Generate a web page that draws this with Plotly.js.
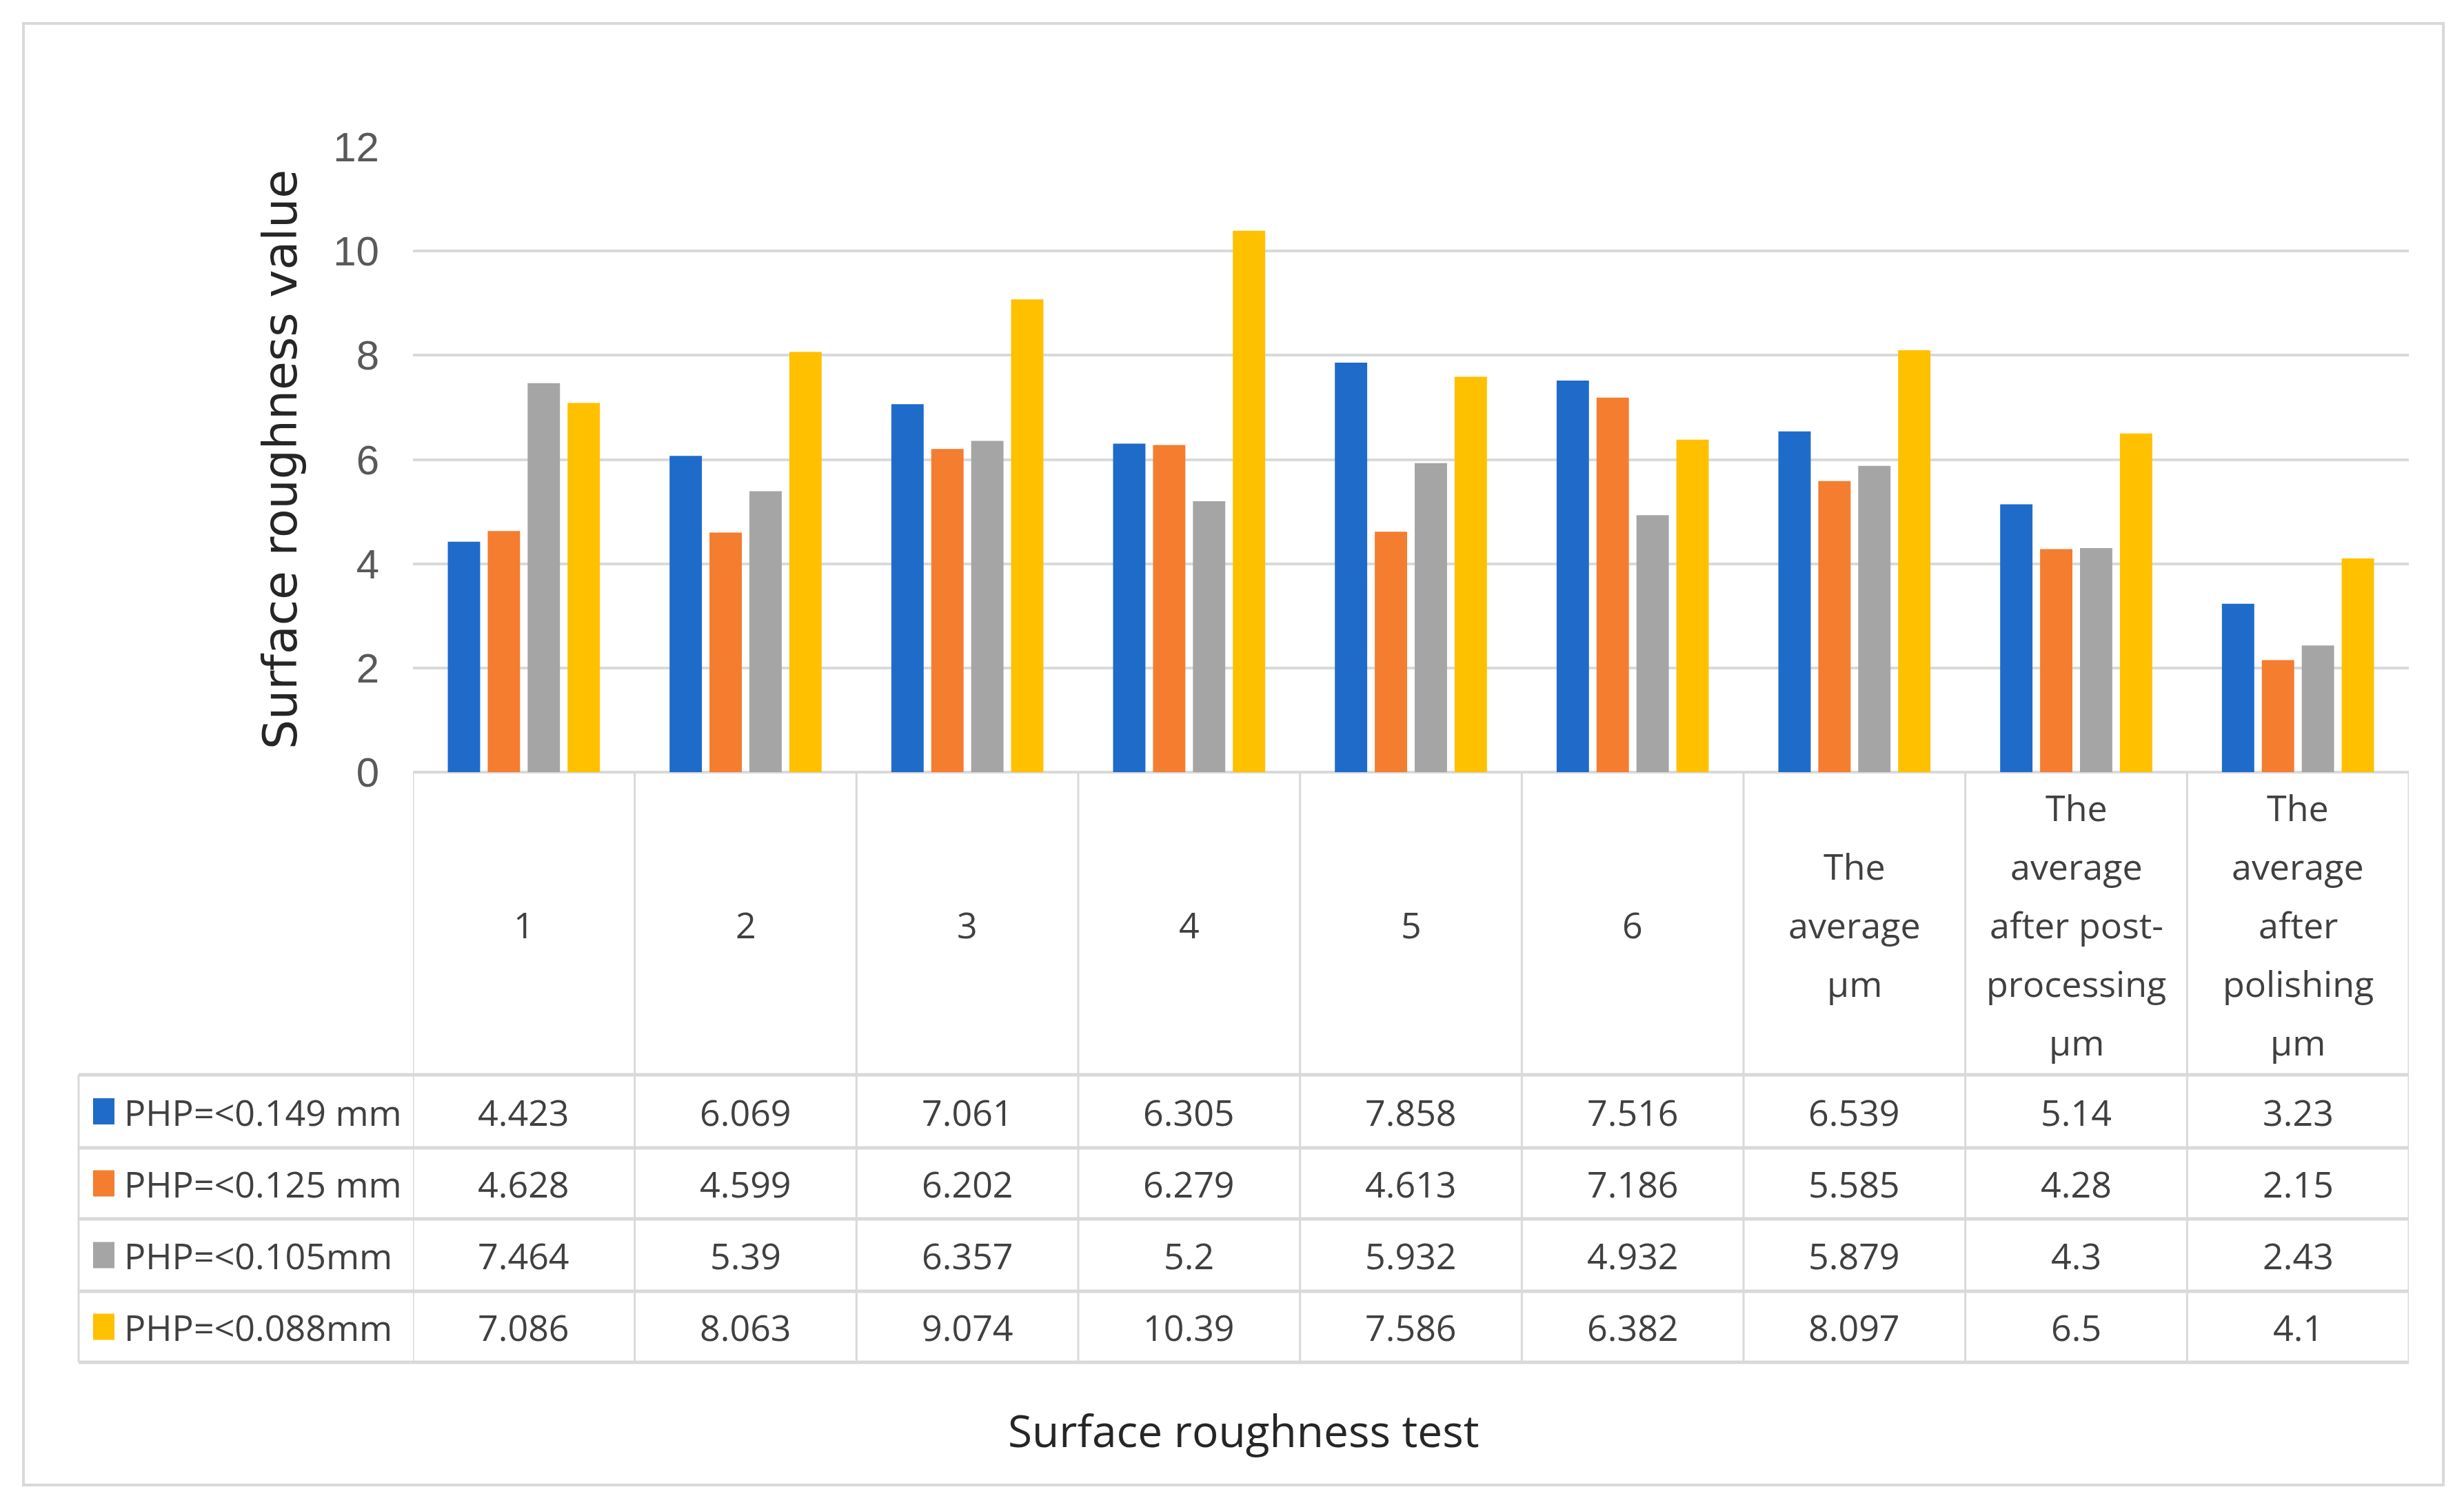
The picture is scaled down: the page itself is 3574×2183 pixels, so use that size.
<!DOCTYPE html>
<html>
<head>
<meta charset="utf-8">
<script src="https://cdn.plot.ly/plotly-3.0.1.min.js"></script>
<style>html,body{margin:0;padding:0;background:#fff;}#chart{width:3574px;height:2183px;}</style>
</head>
<body>
<div id="chart"></div>
<script>
// ---- data ----
const categories = ["1", "2", "3", "4", "5", "6",
  "The<br>average<br>µm",
  "The<br>average<br>after post-<br>processing<br>µm",
  "The<br>average<br>after<br>polishing<br>µm"];
const seriesNames = ["PHP=<0.149 mm", "PHP=<0.125 mm", "PHP=<0.105mm", "PHP=<0.088mm"];
const php0149 = [4.423, 6.069, 7.061, 6.305, 7.858, 7.516, 6.539, 5.14, 3.23];
const php0125 = [4.628, 4.599, 6.202, 6.279, 4.613, 7.186, 5.585, 4.28, 2.15];
const php0105 = [7.464, 5.39, 6.357, 5.2, 5.932, 4.932, 5.879, 4.3, 2.43];
const php0088 = [7.086, 8.063, 9.074, 10.39, 7.586, 6.382, 8.097, 6.5, 4.1];
const seriesValues = [php0149, php0125, php0105, php0088];
const seriesLabels = [
  ["4.423","6.069","7.061","6.305","7.858","7.516","6.539","5.14","3.23"],
  ["4.628","4.599","6.202","6.279","4.613","7.186","5.585","4.28","2.15"],
  ["7.464","5.39","6.357","5.2","5.932","4.932","5.879","4.3","2.43"],
  ["7.086","8.063","9.074","10.39","7.586","6.382","8.097","6.5","4.1"]];
const colors = ["#1F6BC9", "#F47D30", "#A5A5A5", "#FFC000"];
const yTitle = "Surface roughness value";
const xTitle = "Surface roughness test";

// ---- layout geometry (pixels) ----
const W = 3574, H = 2183;
const PL = 599, PR = 3494, PT = 213, PB = 1120;
const xp = px => (px - PL) / (PR - PL);
const yp = py => (PB - py) / (PB - PT);
const rowEdges = [1559, 1665, 1768, 1873, 1976];
const tableLeft = 114;
const headerLineGap = 85;
const headerCenter = 1340;
const gridCol = "#D9D9D9";
const textCol = "#404040";
const tableFont = {family: "Open Sans, sans-serif", size: 52, color: textCol};

const traces = seriesNames.map((name, s) => ({
  type: "bar", name: name, x: categories, y: seriesValues[s],
  marker: {color: colors[s]}, hoverinfo: "x+y"
}));

const shapes = [];
const annotations = [];
// outer frame
shapes.push({type: "rect", xref: "paper", yref: "paper", x0: xp(34), x1: xp(3544), y0: yp(34), y1: yp(2154),
  line: {color: gridCol, width: 4}, fillcolor: "rgba(0,0,0,0)", layer: "below"});
// vertical table lines at category boundaries
for (let i = 0; i <= categories.length; i++) {
  shapes.push({type: "line", xref: "x", yref: "paper", x0: i - 0.5, x1: i - 0.5, y0: 0, y1: yp(rowEdges[rowEdges.length - 1]),
    line: {color: gridCol, width: 3}});
}
// left label column border
shapes.push({type: "line", xref: "paper", yref: "paper", x0: xp(tableLeft), x1: xp(tableLeft),
  y0: yp(rowEdges[0]), y1: yp(rowEdges[rowEdges.length - 1]), line: {color: gridCol, width: 3}});
// horizontal row lines
rowEdges.forEach(r => {
  shapes.push({type: "line", xref: "paper", yref: "paper", x0: xp(tableLeft), x1: 1, y0: yp(r), y1: yp(r),
    line: {color: gridCol, width: 5}});
});
// header labels
categories.forEach((c, i) => {
  const lines = c.split("<br>");
  lines.forEach((ln, k) => {
    const py = headerCenter + (k - (lines.length - 1) / 2) * headerLineGap;
    annotations.push({xref: "x", yref: "paper", x: i, y: yp(py), text: ln, showarrow: false,
      xanchor: "center", yanchor: "middle", font: tableFont});
  });
});
// data rows with legend keys
seriesNames.forEach((name, s) => {
  const cy = (rowEdges[s] + rowEdges[s + 1]) / 2;
  shapes.push({type: "rect", xref: "paper", yref: "paper", x0: xp(135), x1: xp(166), y0: yp(cy - 19), y1: yp(cy + 19),
    line: {width: 0}, fillcolor: colors[s]});
  annotations.push({xref: "paper", yref: "paper", x: xp(178), y: yp(cy), text: name, showarrow: false,
    xanchor: "left", yanchor: "middle", font: tableFont});
  seriesLabels[s].forEach((v, i) => {
    annotations.push({xref: "x", yref: "paper", x: i, y: yp(cy), text: v, showarrow: false,
      xanchor: "center", yanchor: "middle", font: tableFont});
  });
});
// x title
annotations.push({xref: "paper", yref: "paper", x: xp((tableLeft + PR) / 2), y: yp(2074), text: xTitle,
  showarrow: false, xanchor: "center", yanchor: "middle",
  font: {family: "Open Sans, sans-serif", size: 64, color: "#262626"}});

const layout = {
  width: W, height: H,
  margin: {l: PL, r: W - PR, t: PT, b: H - PB, pad: 0},
  paper_bgcolor: "#fff", plot_bgcolor: "#fff",
  showlegend: false,
  barmode: "group", bargap: 0.28, bargroupgap: 0.19,
  xaxis: {type: "category", showticklabels: false, showgrid: false, zeroline: false, showline: false,
    ticks: "", range: [-0.5, categories.length - 0.5], fixedrange: true},
  yaxis: {range: [0, 12], dtick: 2, tick0: 0, showgrid: true, gridcolor: gridCol, gridwidth: 4,
    zeroline: true, zerolinecolor: gridCol, zerolinewidth: 4, showline: false, ticks: "",
    ticklabelstandoff: 48,
    tickfont: {family: "Liberation Sans Narrow, Liberation Sans, sans-serif", size: 60, color: "#595959"},
    title: {text: yTitle, standoff: 30, font: {family: "DejaVu Sans, sans-serif", size: 68, color: "#262626"}},
    automargin: false, fixedrange: true},
  shapes: shapes,
  annotations: annotations
};

Plotly.newPlot("chart", traces, layout, {displayModeBar: false, staticPlot: true});
</script>
</body>
</html>
